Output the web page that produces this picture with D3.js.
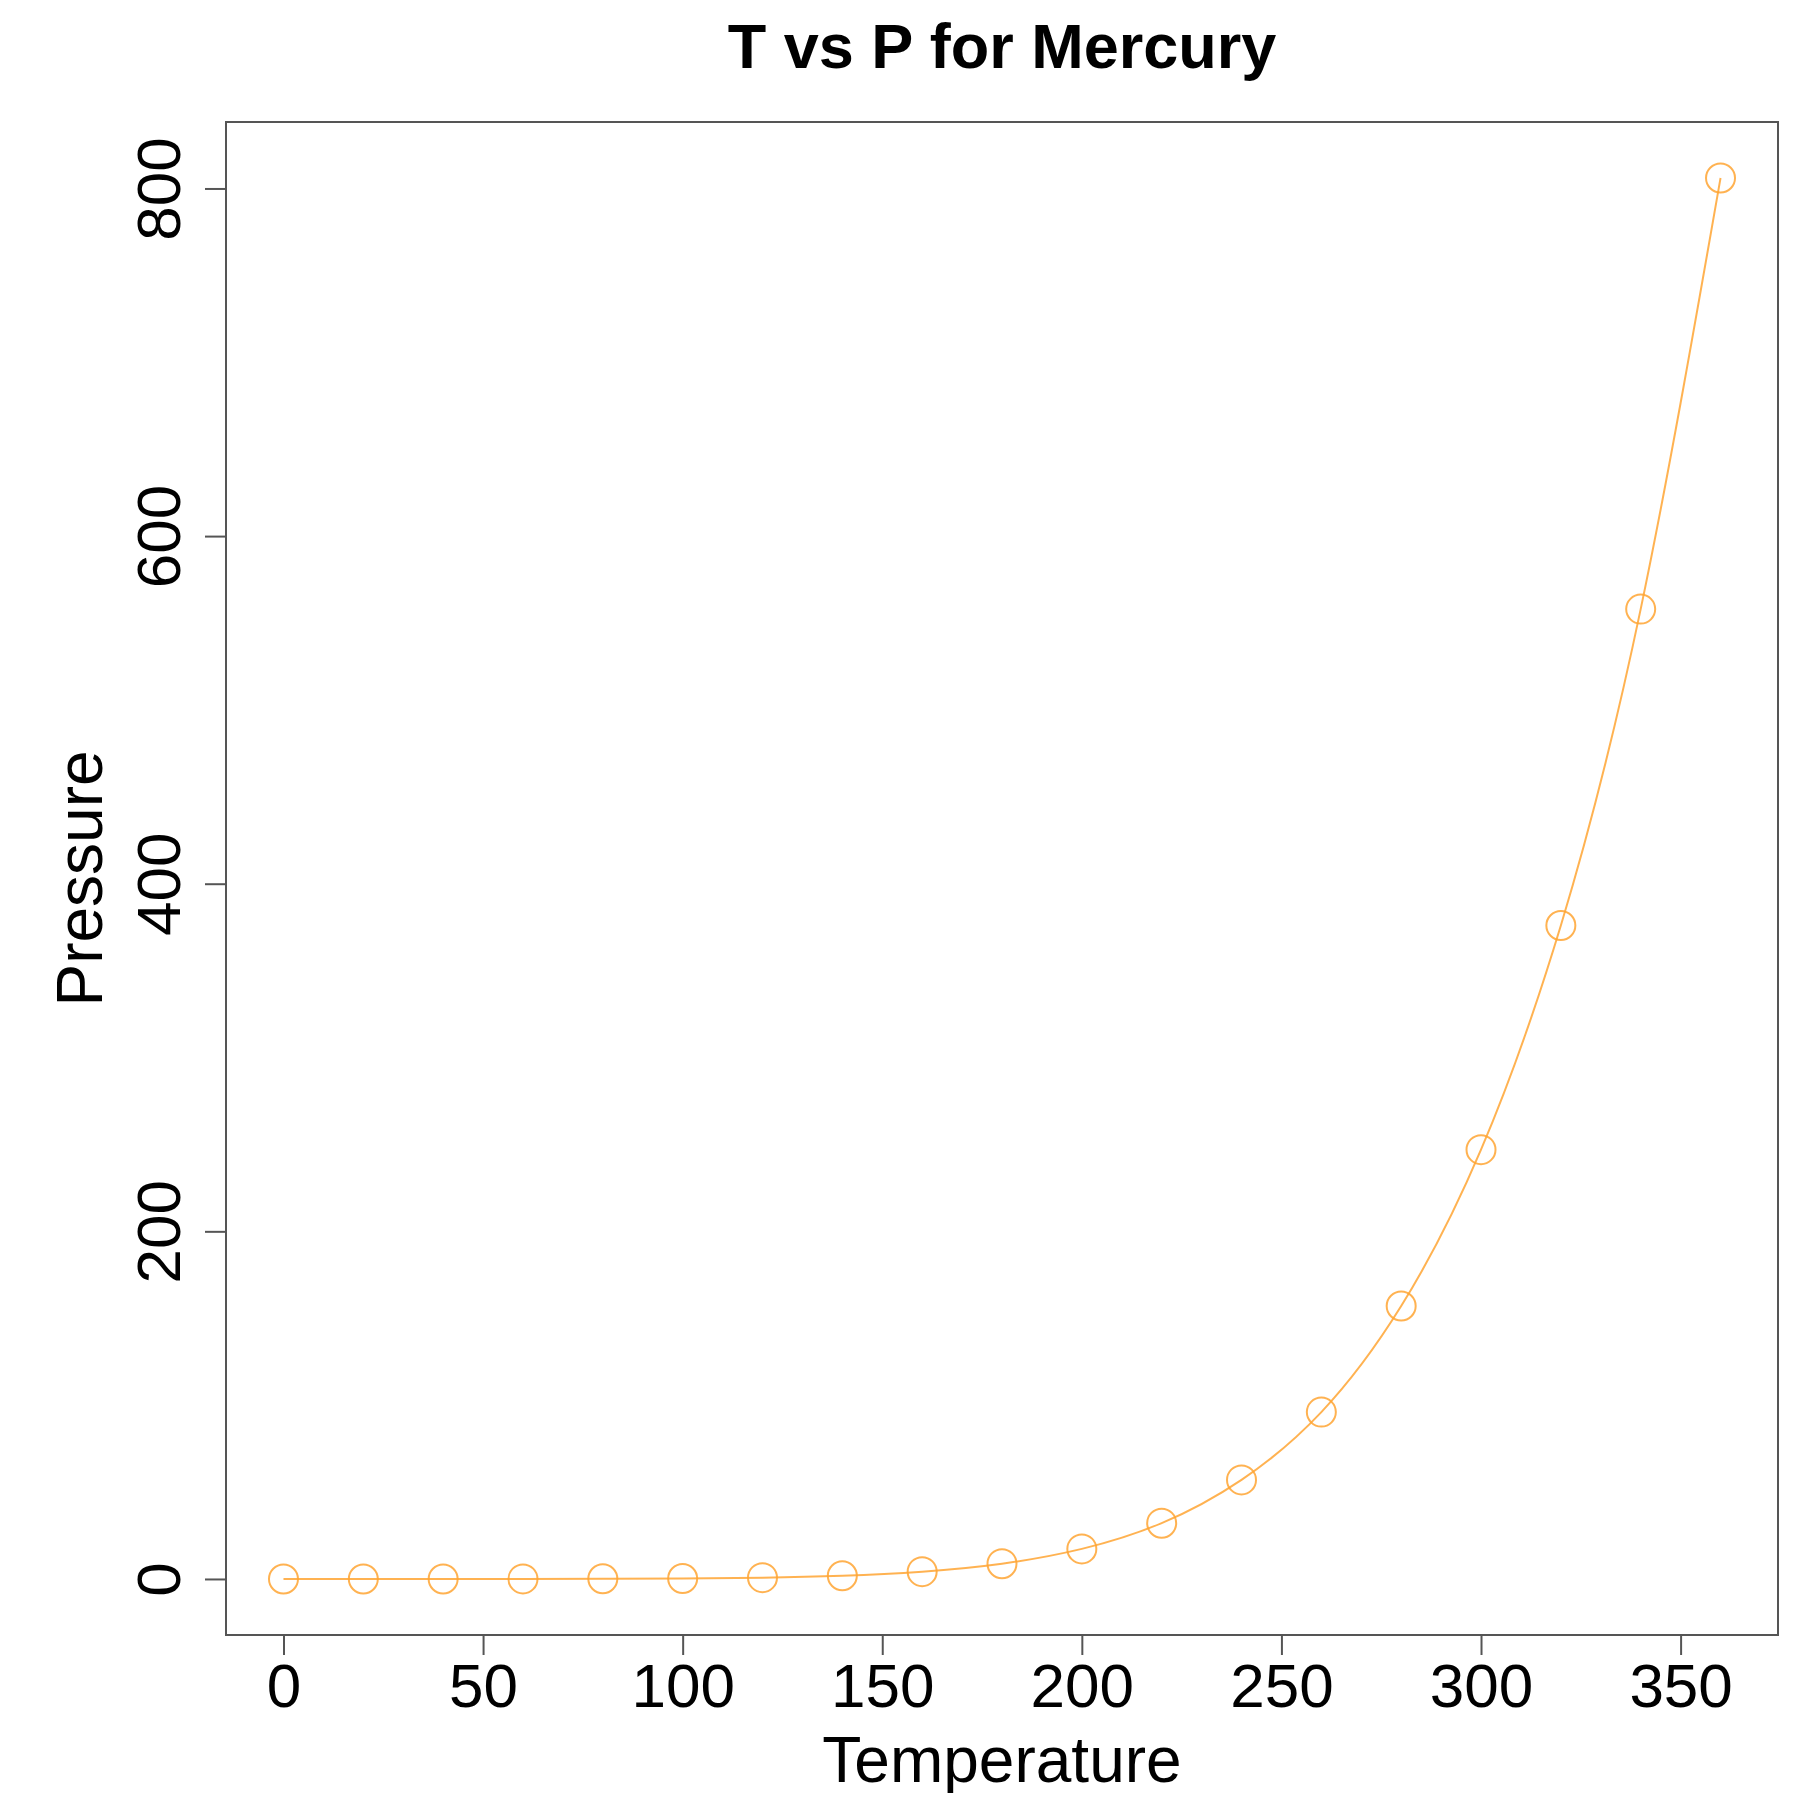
<!DOCTYPE html>
<html>
<head>
<meta charset="utf-8">
<script src="https://cdn.jsdelivr.net/npm/d3@7"></script>
<style>
  body { margin: 0; background: #fff; }
  text { font-family: "Liberation Sans", Arial, sans-serif; fill: #000; }
</style>
</head>
<body>
<svg id="chart" width="1799" height="1793"></svg>
<script>
// data (R "pressure" dataset)
const temperature = [0, 20, 40, 60, 80, 100, 120, 140, 160, 180, 200, 220, 240, 260, 280, 300, 320, 340, 360];
const pressure = [0.0002, 0.0012, 0.006, 0.03, 0.09, 0.27, 0.75, 1.85, 4.2, 8.8, 17.3, 32.1, 57, 96, 157, 247, 376, 558, 806];
const xTicks = [0, 50, 100, 150, 200, 250, 300, 350];
const yTicks = [0, 200, 400, 600, 800];

const data = temperature.map((t, i) => ({ t: t, p: pressure[i] }));

// plot region
const plotLeft = 226, plotRight = 1778, plotTop = 122, plotBottom = 1635;
const col = "#FFA533";

const svg = d3.select("#chart");

// R style 4% axis extension
const xe = d3.extent(temperature), ye = d3.extent(pressure);
const xPad = (xe[1] - xe[0]) * 0.04, yPad = (ye[1] - ye[0]) * 0.04;

const x = d3.scaleLinear()
    .domain([xe[0] - xPad, xe[1] + xPad])
    .range([plotLeft, plotRight]);

const y = d3.scaleLinear()
    .domain([ye[0] - yPad, ye[1] + yPad])
    .range([plotBottom, plotTop]);

// box
svg.append("rect")
    .attr("x", plotLeft)
    .attr("y", plotTop)
    .attr("width", plotRight - plotLeft)
    .attr("height", plotBottom - plotTop)
    .attr("fill", "none")
    .attr("stroke", "#555")
    .attr("stroke-width", 2);

// X axis
const xAxis = svg.append("g")
    .attr("transform", "translate(0," + plotBottom + ")")
    .call(d3.axisBottom(x).tickValues(xTicks).tickSize(20).tickFormat(d3.format("d")));
xAxis.select(".domain").remove();
xAxis.selectAll(".tick line").attr("stroke", "#555").attr("stroke-width", 2);
xAxis.selectAll(".tick text")
    .attr("font-size", 62)
    .attr("fill", "#000")
    .attr("dy", null)
    .attr("y", 72);

// Y axis
const yAxis = svg.append("g")
    .attr("transform", "translate(" + plotLeft + ",0)")
    .call(d3.axisLeft(y).tickValues(yTicks).tickSize(21).tickFormat(d3.format("d")));
yAxis.select(".domain").remove();
yAxis.selectAll(".tick line").attr("stroke", "#555").attr("stroke-width", 2);
yAxis.selectAll(".tick text")
    .attr("font-size", 62)
    .attr("fill", "#000")
    .attr("x", null)
    .attr("dy", null)
    .attr("text-anchor", "middle")
    .attr("transform", "translate(" + (180 - plotLeft) + ",0) rotate(-90)");

// curve through the points
const line = d3.line()
    .x(d => x(d.t))
    .y(d => y(d.p))
    .curve(d3.curveNatural);

svg.append("path")
    .datum(data)
    .attr("d", line)
    .attr("fill", "none")
    .attr("stroke", col)
    .attr("stroke-opacity", 0.85)
    .attr("stroke-width", 2);

// points
svg.selectAll(".pt")
    .data(data)
    .enter().append("circle")
    .attr("class", "pt")
    .attr("cx", d => x(d.t))
    .attr("cy", d => y(d.p))
    .attr("r", 14.5)
    .attr("fill", "none")
    .attr("stroke", col)
    .attr("stroke-opacity", 0.85)
    .attr("stroke-width", 2);

// title
svg.append("text")
    .attr("x", (plotLeft + plotRight) / 2)
    .attr("y", 68)
    .attr("text-anchor", "middle")
    .attr("font-size", 63)
    .attr("font-weight", "bold")
    .text("T vs P for Mercury");

// X label
svg.append("text")
    .attr("x", (plotLeft + plotRight) / 2)
    .attr("y", 1782)
    .attr("text-anchor", "middle")
    .attr("font-size", 64)
    .text("Temperature");

// Y label
svg.append("text")
    .attr("transform", "translate(102," + ((plotTop + plotBottom) / 2) + ") rotate(-90)")
    .attr("text-anchor", "middle")
    .attr("font-size", 64)
    .text("Pressure");
</script>
</body>
</html>
